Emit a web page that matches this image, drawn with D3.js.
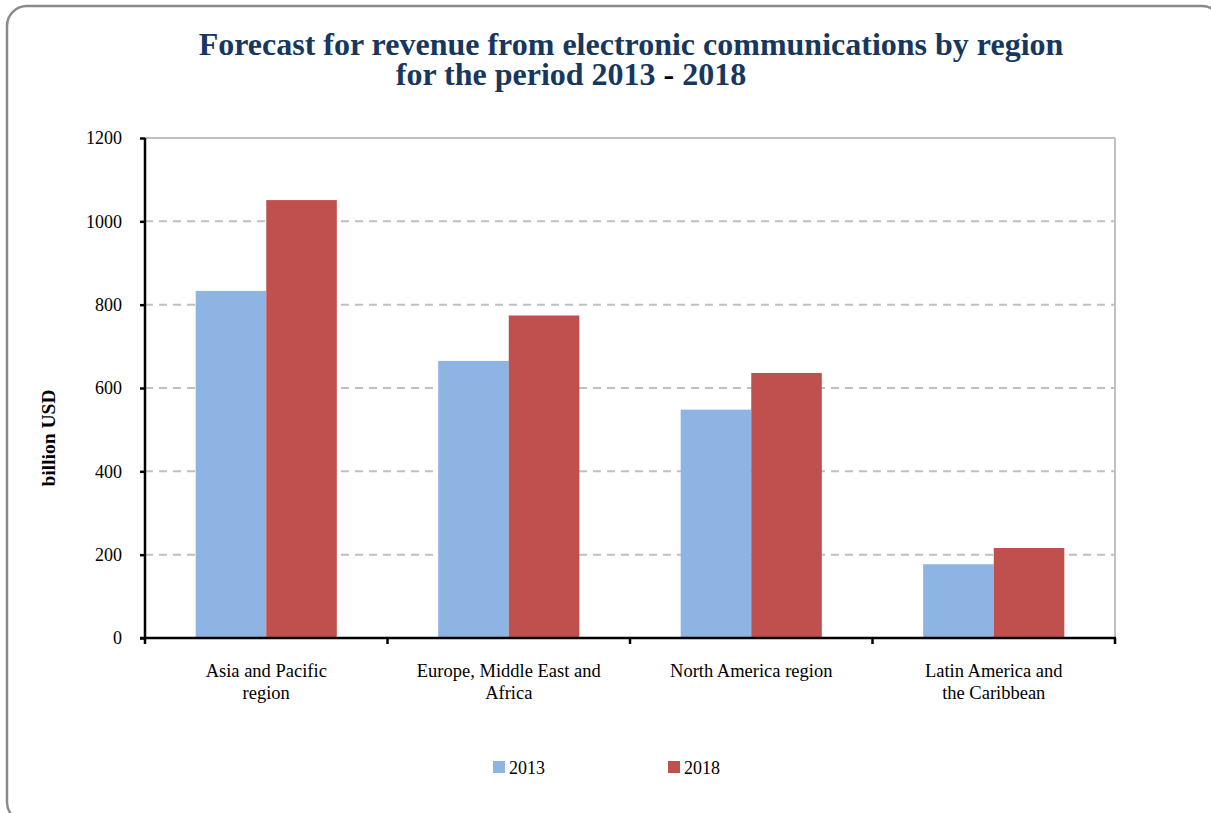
<!DOCTYPE html>
<html>
<head>
<meta charset="utf-8">
<script src="https://cdn.jsdelivr.net/npm/d3@7"></script>
<style>
  html, body { margin: 0; padding: 0; background: #fff; }
  svg { display: block; font-family: "Liberation Serif", "Times New Roman", serif; }
</style>
</head>
<body>
<svg id="chart" width="1211" height="813"></svg>
<script>
// Revenue forecast, billion USD
const categories = [
  ["Asia and Pacific", "region"],
  ["Europe, Middle East and", "Africa"],
  ["North America region"],
  ["Latin America and", "the Caribbean"]
];
const seriesNames = ["2013", "2018"];
const values2013 = [833, 665, 548, 177];
const values2018 = [1051, 774, 636, 216];
const yTicks = [0, 200, 400, 600, 800, 1000, 1200];
const colors = ["#8EB4E3", "#C0504D"];

const svg = d3.select("#chart");

// outer rounded frame
svg.append("rect")
  .attr("x", 7).attr("y", 6)
  .attr("width", 1215).attr("height", 816)
  .attr("rx", 20).attr("ry", 20)
  .attr("fill", "#fff")
  .attr("stroke", "#8a8a8a")
  .attr("stroke-width", 2.5);

// title
const title = svg.append("g")
  .attr("fill", "#17375E")
  .attr("font-weight", "bold")
  .attr("font-size", 32)
  .attr("text-anchor", "middle");
title.append("text").attr("x", 631).attr("y", 55)
  .text("Forecast for revenue from electronic communications by region");
const t2 = title.append("text").attr("x", 571).attr("y", 85);
t2.append("tspan").text("for the period 2013 ");
t2.append("tspan").attr("fill", "#000").text("-");
t2.append("tspan").text(" 2018");

const margin = { left: 145, right: 1115, top: 138, bottom: 638 };
const x = d3.scaleBand()
  .domain(d3.range(categories.length))
  .range([margin.left, margin.right])
  .paddingInner(0.418)
  .paddingOuter(0.209);
const xSub = d3.scaleBand()
  .domain(seriesNames)
  .range([0, x.bandwidth()]);
const y = d3.scaleLinear()
  .domain([0, 1200])
  .range([margin.bottom, margin.top]);

// gridlines
svg.append("g")
  .selectAll("line")
  .data(yTicks.filter(t => t > 0))
  .join("line")
  .attr("x1", margin.left).attr("x2", margin.right)
  .attr("y1", d => y(d)).attr("y2", d => y(d))
  .attr("stroke", "#c0c0c0")
  .attr("stroke-width", 2)
  .attr("stroke-dasharray", d => d === 1200 ? null : "8,6");

// right border of plot area
svg.append("line")
  .attr("x1", margin.right).attr("x2", margin.right)
  .attr("y1", margin.top).attr("y2", margin.bottom)
  .attr("stroke", "#c0c0c0").attr("stroke-width", 2);

// bars
const seriesValues = [values2013, values2018];
const groups = svg.append("g")
  .selectAll("g")
  .data(categories.map((c, i) => i))
  .join("g")
  .attr("transform", i => `translate(${x(i)},0)`);
groups.selectAll("rect")
  .data(i => seriesNames.map((s, k) => ({ s, k, v: seriesValues[k][i] })))
  .join("rect")
  .attr("x", d => xSub(d.s))
  .attr("width", xSub.bandwidth())
  .attr("y", d => y(d.v))
  .attr("height", d => y(0) - y(d.v))
  .attr("fill", d => colors[d.k]);

// y axis
const yAxis = d3.axisLeft(y).tickValues(yTicks).tickSize(5).tickPadding(18).tickFormat(d3.format("d"));
const gy = svg.append("g")
  .attr("transform", `translate(${margin.left},0)`)
  .call(yAxis);
gy.attr("font-family", null).attr("font-size", null);
gy.select(".domain").attr("stroke", "#000").attr("stroke-width", 2.5).attr("d", `M0,${margin.top}V${margin.bottom}`);
gy.selectAll(".tick line").attr("stroke", "#000").attr("stroke-width", 2.5);
gy.selectAll(".tick text")
  .attr("font-size", 18).attr("fill", "#000");

// x axis with boundary ticks
svg.append("line")
  .attr("x1", margin.left - 5).attr("x2", margin.right + 1)
  .attr("y1", y(0)).attr("y2", y(0))
  .attr("stroke", "#000").attr("stroke-width", 2.5);
const bounds = d3.range(categories.length + 1).map(i =>
  i < categories.length ? x(i) - x.step() * x.paddingInner() / 2 : margin.right);
bounds[0] = margin.left;
svg.append("g").selectAll("line")
  .data(bounds)
  .join("line")
  .attr("x1", d => d).attr("x2", d => d)
  .attr("y1", y(0)).attr("y2", y(0) + 6)
  .attr("stroke", "#000").attr("stroke-width", 2.5);

// category labels
const labels = svg.append("g")
  .attr("font-size", 18.5)
  .attr("text-anchor", "middle")
  .attr("fill", "#000");
categories.forEach((lines, i) => {
  const t = labels.append("text")
    .attr("x", x(i) + x.bandwidth() / 2)
    .attr("y", 677);
  lines.forEach((ln, j) => {
    t.append("tspan")
      .attr("x", x(i) + x.bandwidth() / 2)
      .attr("dy", j === 0 ? 0 : 22)
      .text(ln);
  });
});

// y axis title
svg.append("text")
  .attr("transform", "translate(55,438) rotate(-90)")
  .attr("text-anchor", "middle")
  .attr("font-weight", "bold")
  .attr("font-size", 19.5)
  .text("billion USD");

// legend
const legendX = [493, 668];
const legend = svg.append("g").selectAll("g")
  .data(seriesNames)
  .join("g")
  .attr("transform", (d, i) => `translate(${legendX[i]},761)`);
legend.append("rect")
  .attr("width", 12).attr("height", 12)
  .attr("fill", (d, i) => colors[i]);
legend.append("text")
  .attr("x", 16).attr("y", 13)
  .attr("font-size", 18)
  .text(d => d);
</script>
</body>
</html>
